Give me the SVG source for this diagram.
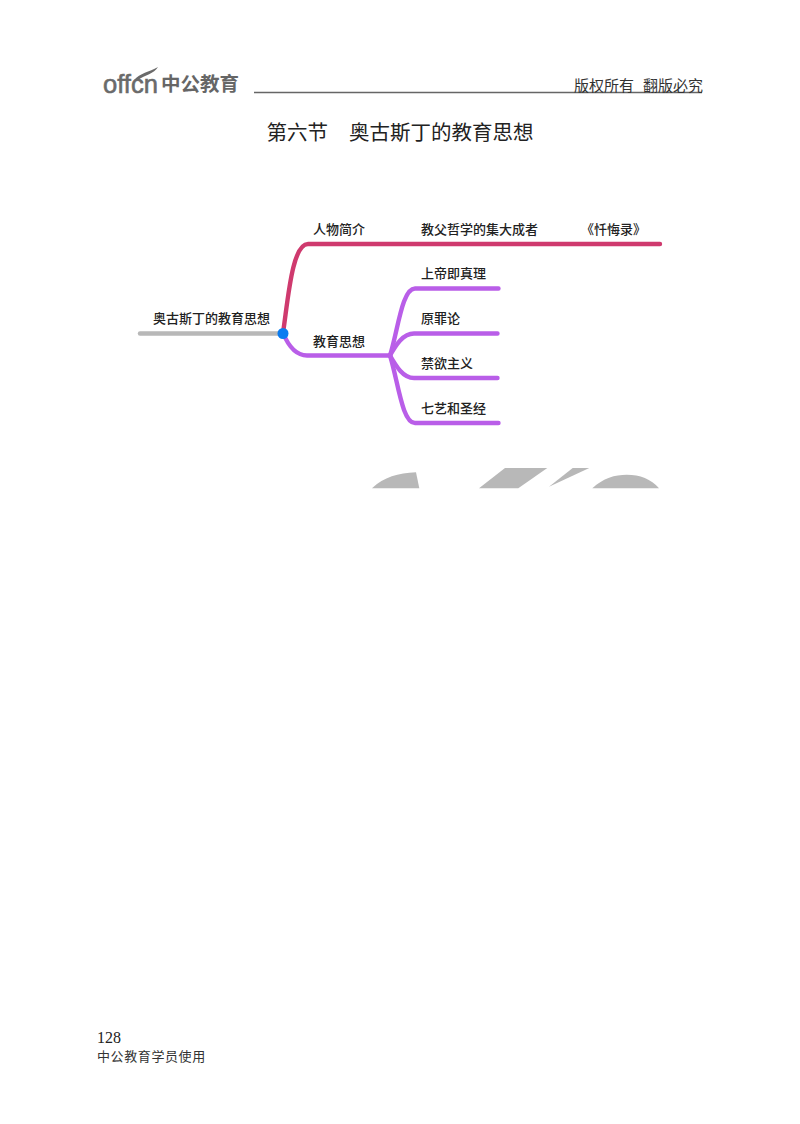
<svg xmlns="http://www.w3.org/2000/svg" width="800" height="1124" viewBox="0 0 800 1124">
<style>
text{font-family:"Liberation Sans","Noto Sans CJK SC",sans-serif}
.l{font-size:13px;fill:#222;font-family:"Noto Sans CJK SC",sans-serif;font-weight:500}
.c{fill:none;stroke-width:4.4;stroke-linecap:round;stroke-linejoin:round}
.r{stroke:#cf3a6e}
.p{stroke:#b95ee8}
.w{fill:#b8b8b8}
</style>
<rect width="800" height="1124" fill="#fff"/>
<g id="header">
<text x="103" y="93" font-size="26" fill="#6a6a6a" stroke="#6a6a6a" stroke-width="0.6" textLength="55" lengthAdjust="spacingAndGlyphs">offcn</text>
<path d="M134 80C140 73 149 72 158 67C154 74 145 75 138 80Z" fill="#6a6a6a"/>
<text x="161" y="91" font-size="19.5" font-weight="700" fill="#666" style="font-family:'Noto Sans CJK SC',sans-serif">中公教育</text>
<line x1="254" y1="92.5" x2="702" y2="92.5" stroke="#666" stroke-width="1.4"/>
<text x="574" y="91" font-size="15" fill="#333" style="font-family:'Noto Sans CJK SC',sans-serif">版权所有</text>
<text x="643" y="91" font-size="15" fill="#333" style="font-family:'Noto Sans CJK SC',sans-serif">翻版必究</text>
</g>
<text id="title" x="266.500" y="140" font-size="20.5" fill="#222" style="font-family:'Noto Sans CJK SC',sans-serif">第六节</text>
<text id="title2" x="349" y="140" font-size="20.5" fill="#222" style="font-family:'Noto Sans CJK SC',sans-serif">奥古斯丁的教育思想</text>
<g id="connectors">
<path class="c" d="M140 333.5H283" stroke="#b8b8b8"/>
<path class="c r" d="M283 333C288 300 292 244 308 244H660"/>
<path class="c p" d="M283 333C288 345 295 355.5 307 355.5H390"/>
<path class="c p" d="M390 355.5C398 330 402 288.5 415 288.5H498.500"/>
<path class="c p" d="M390 355.5C396 345 403 333.5 414 333.5H497.500"/>
<path class="c p" d="M390 355.5C396 366 403 378 414 378H497.500"/>
<path class="c p" d="M390 355.5C398 381 402 423 415 423H498.500"/>
</g>
<g id="node-root"><text class="l" x="153" y="323">奥古斯丁的教育思想</text><circle cx="283" cy="333.5" r="5.500" fill="#0a7cf0"/></g>
<g id="node-bio"><text class="l" x="313" y="234">人物简介</text></g>
<g id="node-phil"><text class="l" x="421" y="234">教父哲学的集大成者</text></g>
<g id="node-book"><text class="l" x="581" y="234">《忏悔录》</text></g>
<g id="node-edu"><text class="l" x="313" y="346">教育思想</text></g>
<g id="node-a"><text class="l" x="421" y="278">上帝即真理</text></g>
<g id="node-b"><text class="l" x="421" y="323">原罪论</text></g>
<g id="node-c"><text class="l" x="421" y="368">禁欲主义</text></g>
<g id="node-d"><text class="l" x="421" y="413">七艺和圣经</text></g>
<g id="watermark">
<path class="w" d="M372 488.3C384 477 398 473 416 472.3L419.3 488.3Z"/>
<path class="w" d="M479 488.3L505 468H547.3L518.3 488.3Z"/>
<path class="w" d="M549 486.7L572.7 468H589.3Z"/>
<path class="w" d="M592.3 488.3C603 478 615 474.7 626.7 474.7C640 474.7 651 479 659 488.3Z"/>
</g>
<g id="footer">
<text x="97" y="1043" font-size="16" fill="#222" style="font-family:'Liberation Serif',serif">128</text>
<text x="97" y="1061" font-size="13" letter-spacing="0.6" fill="#333" style="font-family:'Noto Sans CJK SC',sans-serif">中公教育学员使用</text>
</g>
</svg>
